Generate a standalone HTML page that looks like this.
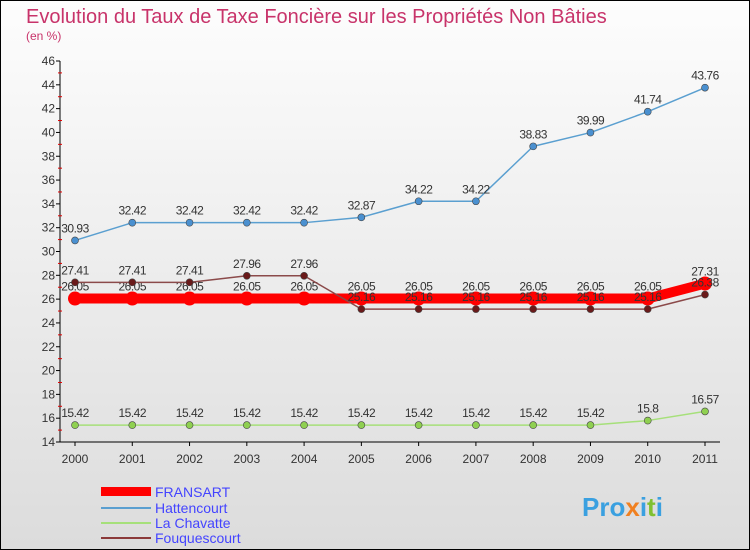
<!DOCTYPE html>
<html><head><meta charset="utf-8"><style>
body{margin:0}
svg{display:block;font-family:"Liberation Sans",sans-serif}
</style></head><body>
<svg id="c" width="750" height="550">
<defs><linearGradient id="bg" x1="0" y1="0" x2="0" y2="1"><stop offset="0" stop-color="#fdfdfd"/><stop offset="1" stop-color="#dcdcdc"/></linearGradient></defs>
<rect x="0.5" y="0.5" width="749" height="549" fill="url(#bg)" stroke="#000"/>
<text x="26" y="23" font-size="20" fill="#c8336a">Evolution du Taux de Taxe Foncière sur les Propriétés Non Bâties</text>
<text x="26" y="40" font-size="12" fill="#c8336a">(en %)</text>
<g id="axes"></g><g id="series"></g>
<g>
<rect x="101" y="487" width="50" height="9" fill="#ff0000"/>
<text x="155" y="497" font-size="14" fill="#4444ff">FRANSART</text>
<line x1="101" y1="508" x2="151" y2="508" stroke="#5a9fd0" stroke-width="2"/>
<text x="155" y="513" font-size="14" fill="#4444ff">Hattencourt</text>
<line x1="101" y1="523" x2="151" y2="523" stroke="#a6e07a" stroke-width="2"/>
<text x="155" y="528" font-size="14" fill="#4444ff">La Chavatte</text>
<line x1="101" y1="538" x2="151" y2="538" stroke="#8b3a3a" stroke-width="2"/>
<text x="155" y="543" font-size="14" fill="#4444ff">Fouquescourt</text>
</g>
<text x="582" y="516" font-size="26" font-weight="bold" fill="#3aa0e0">Pro<tspan fill="#f08020">x</tspan>i<tspan fill="#80c030">t</tspan>i</text>
</svg>
<script>
const years=[2000,2001,2002,2003,2004,2005,2006,2007,2008,2009,2010,2011];
const fransart=[26.05,26.05,26.05,26.05,26.05,26.05,26.05,26.05,26.05,26.05,26.05,27.31];
const hattencourt=[30.93,32.42,32.42,32.42,32.42,32.87,34.22,34.22,38.83,39.99,41.74,43.76];
const chavatte=[15.42,15.42,15.42,15.42,15.42,15.42,15.42,15.42,15.42,15.42,15.8,16.57];
const fouquescourt=[27.41,27.41,27.41,27.96,27.96,25.16,25.16,25.16,25.16,25.16,25.16,26.38];
const yTicks=[14,16,18,20,22,24,26,28,30,32,34,36,38,40,42,44,46];
const NS="http://www.w3.org/2000/svg";
const X=i=>75+i*(630/11), Y=v=>442-(v-14)*(381/32);
function mk(t,a,p){const e=document.createElementNS(NS,t);for(const k in a)e.setAttribute(k,a[k]);p.appendChild(e);return e;}
const ax=document.getElementById('axes');
const yl=mk('line',{x1:60,y1:61,x2:60,y2:442,stroke:'#000'},ax);


const xl=mk('line',{x1:60,y1:442,x2:720,y2:442,stroke:'#000'},ax);


yTicks.forEach(v=>{
  mk('line',{x1:56,y1:Y(v),x2:60,y2:Y(v),stroke:'#000'},ax);
  if(v<46) mk('line',{x1:58,y1:Y(v+1),x2:62,y2:Y(v+1),stroke:'#d00'},ax);
  const t=mk('text',{x:55,y:Y(v)+4,'font-size':12,fill:'#333','text-anchor':'end'},ax);t.textContent=v;
  
  
});
years.forEach((y,i)=>{
  mk('line',{x1:X(i),y1:442,x2:X(i),y2:446,stroke:'#000'},ax);
  const t=mk('text',{x:X(i),y:463,'font-size':12,fill:'#333','text-anchor':'middle'},ax);t.textContent=y;
  
  
});
const sg=document.getElementById('series');
function series(name,vals,color,w,r,dot,lblOff){
  const g=mk('g',{},sg);
  
  
  mk('polyline',{points:vals.map((v,i)=>X(i)+','+Y(v)).join(' '),fill:'none',stroke:color,'stroke-width':w,'stroke-linejoin':'round'},g);
  vals.forEach((v,i)=>{
    const c=mk('circle',{cx:X(i),cy:Y(v),r:r,fill:dot,stroke:'#444','stroke-width':r>6?0:0.6},g);
    
    
    const t=mk('text',{x:X(i),y:Y(v)+lblOff,'font-size':12,fill:'#333','text-anchor':'middle','letter-spacing':'-0.5'},g);t.textContent=v;
    
    
  });
}
series('hattencourt',hattencourt,'#5a9fd0',1.5,3.5,'#4a90d0',-8);
series('la-chavatte',chavatte,'#a6e07a',1.5,3.5,'#8fd050',-8);
series('fransart',fransart,'#ff0000',10,7,'#ff0000',-8);
series('fouquescourt',fouquescourt,'#8b4a4a',1.5,3.5,'#6a1a1a',-8);
</script>
</body></html>
